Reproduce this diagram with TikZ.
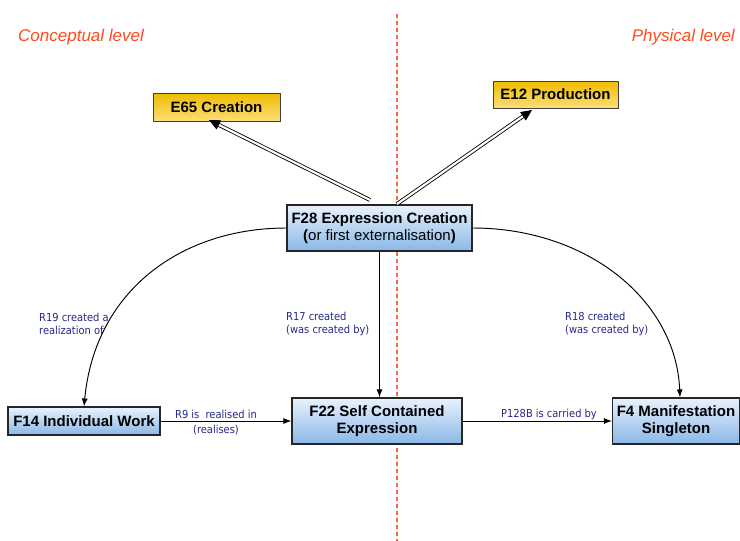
\documentclass[tikz,border=0pt]{standalone}
\usepackage{fontspec}
\setmainfont{Liberation Sans}
\newfontfamily\labfont{DejaVu Sans Condensed}
\usetikzlibrary{arrows.meta}
\definecolor{lab}{RGB}{40,40,140}
\definecolor{lvl}{RGB}{255,75,30}
\definecolor{gold}{RGB}{240,188,0}
\definecolor{blt}{RGB}{232,242,253}
\definecolor{bdk}{RGB}{138,183,230}
\tikzset{
  bluebox/.style={draw=black!85, line width=1.1pt, top color=blt, bottom color=bdk,
    inner sep=0pt, align=center, font=\fontsize{15}{17}\selectfont\bfseries},
  yellowbox/.style={draw=black!75, line width=0.9pt, top color=gold, middle color=white, bottom color={rgb,255:red,250;green,222;blue,120},
    inner sep=0pt, align=center, font=\fontsize{15}{17}\selectfont\bfseries},
  conn/.style={draw, line width=0.95pt, -{Latex[length=8pt,width=6pt]}},
  dblarrow/.style={draw, double, double distance=2.2pt, line width=0.85pt, -{Triangle[length=11pt,width=10pt]}},
  rel/.style={text=lab, font=\labfont\fontsize{11}{13}\selectfont, inner sep=0pt},
  level/.style={text=lvl, font=\fontsize{17}{19}\selectfont\itshape, inner sep=0pt}
}
\begin{document}
\begin{tikzpicture}[x=1pt,y=-1pt]
\useasboundingbox[fill=white] (0,0) rectangle (740,541);

% dashed separator
\coordinate (dtop) at (397,14);
\coordinate (dbot) at (397,541);
\draw[lvl!85, line width=1.2pt, dash pattern=on 4pt off 3pt] (dtop) -- (dbot);

\node[level, anchor=west] (concept) at (18,37) {Conceptual level};
\node[level, anchor=east] (phys) at (735,37) {Physical level};

% nodes
\node[yellowbox, minimum width=127pt, minimum height=28pt] (e65) at (216.5,107) {E65 Creation};
\node[yellowbox, minimum width=125pt, minimum height=27pt] (e12) at (555.5,94.5) {E12 Production};
\node[bluebox, minimum width=185pt, minimum height=46pt] (f28) at (379.5,228)
  {F28 Expression Creation\\(\mdseries or first externalisation\bfseries)};
\node[bluebox, minimum width=152pt, minimum height=28pt] (f14) at (84,421) {F14 Individual Work};
\node[bluebox, minimum width=170pt, minimum height=46pt] (f22) at (377,421) {F22 Self Contained\\Expression};
\node[bluebox, minimum width=127pt, minimum height=46pt] (f4) at (676,421) {F4 Manifestation\\Singleton};

% double arrows
\coordinate (s1) at (370,200);
\coordinate (t1) at (209,120);
\coordinate (s2) at (397,204);
\coordinate (t2) at (532,110);
\draw[dblarrow] (s1) -- (t1);
\draw[dblarrow] (s2) -- (t2);

% connectors
\draw[conn] (f28.west) .. controls (182,228) and (95,290) .. (f14.north);
\draw[conn] (f28.east) .. controls (587,228) and (676,300) .. ([xshift=4pt]f4.north);
\draw[conn] (f28.south) -- (f22.north -| f28.south);
\draw[conn] (f14.east) -- (f22.west |- f14.east);
\draw[conn] (f22.east) -- (f4.west);

% labels
\node[rel, anchor=west, align=left] (l19) at (39,324) {R19 created a\\realization of};
\node[rel, anchor=west, align=left] (l17) at (286,324) {R17 created\\(was created by)};
\node[rel, anchor=west, align=left] (l18) at (565,324) {R18 created\\(was created by)};
\node[rel] (l9a) at (216,414) {R9 is \ realised in};
\node[rel] (l9b) at (216,430) {(realises)};
\node[rel] (l128) at (549,414) {P128B is carried by};
\end{tikzpicture}
\end{document}
